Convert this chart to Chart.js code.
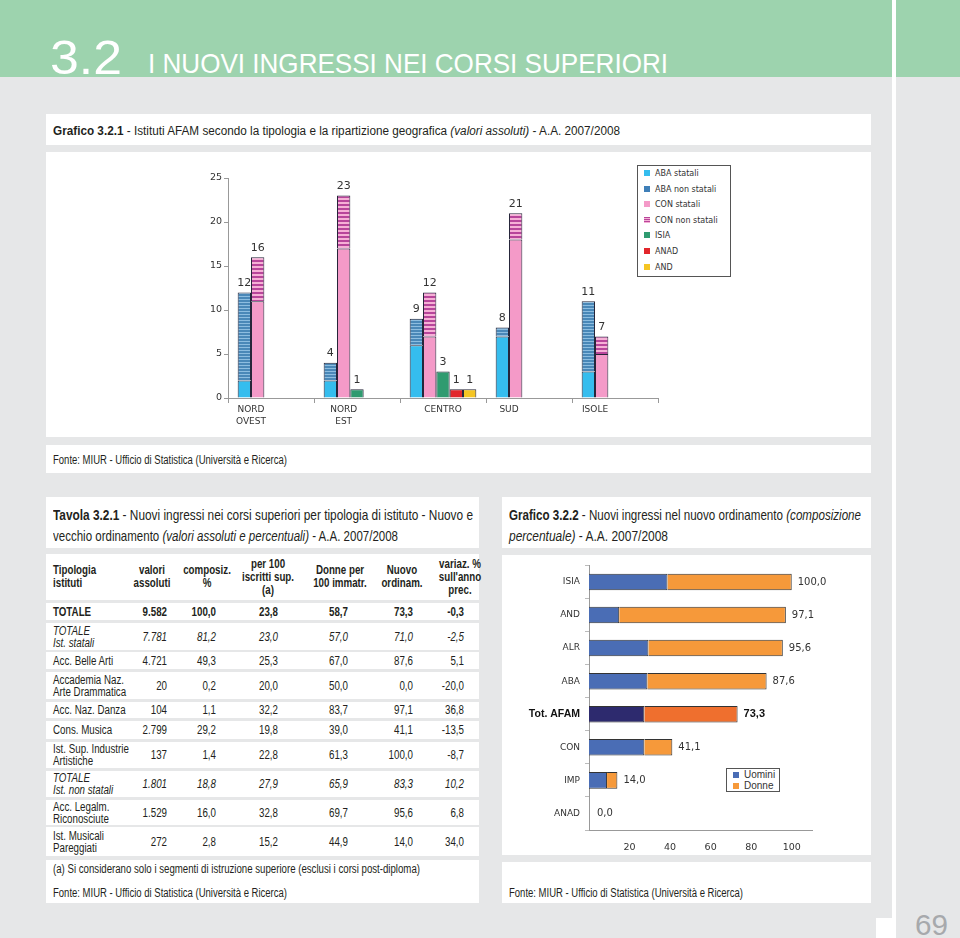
<!DOCTYPE html>
<html>
<head>
<meta charset="utf-8">
<script src="https://cdn.jsdelivr.net/npm/chart.js@4.4.1/dist/chart.umd.min.js"></script>
<style>
  body { margin: 0; background: #e6e7e8; overflow: hidden; }
  #page { position: relative; width: 960px; height: 938px; background: #e6e7e8; color: #231f20; font-family: "Liberation Sans", Arial, sans-serif; }
  .abs { position: absolute; white-space: nowrap; }
  .box { position: absolute; background: #fff; }
  .fit { transform-origin: left center; }
  .row { position: absolute; left: 46px; width: 433px; background: #fff; font-size: 12.5px; }
  .row .lab { position: absolute; left: 7px; top: 50%; transform: translateY(-50%) scaleX(0.78); transform-origin: left center; line-height: 12px; white-space: nowrap; }
  .row .val { position: absolute; top: 50%; transform: translateY(-50%) scaleX(0.78); transform-origin: right center; text-align: right; width: 60px; }
  .hdr { position: absolute; top: 50%; transform: translateY(-50%) scaleX(0.78); text-align: center; width: 90px; line-height: 13px; font-weight: bold; font-size: 12.5px; white-space: nowrap; }
  .leg { position: absolute; border: 1px solid #555; background: #fff; font-family: "DejaVu Sans", sans-serif; font-size: 8px; color: #333; }
  .leg div { position: absolute; left: 6px; white-space: nowrap; }
  .leg span { display: inline-block; width: 6px; height: 6px; margin-right: 5px; vertical-align: 0px; }
</style>
</head>
<body>
<div id="page">
  <div class="abs" style="left:0;top:0;width:960px;height:77px;background:#9dd3ae"></div>
  <div class="abs" style="left:892px;top:0;width:4px;height:920px;background:#fff"></div>
  <div class="abs" style="left:876px;top:918px;width:20px;height:20px;background:#fff"></div>
  <div class="abs fit" data-w="72" style="left:50px;top:33px;font-size:49px;line-height:49px;color:#fff">3.2</div>
  <div class="abs fit" data-w="520" style="left:148px;top:50px;font-size:28px;line-height:28px;color:#fff">I NUOVI INGRESSI NEI CORSI SUPERIORI</div>
  <div class="abs fit" data-w="33" style="left:915px;top:910px;font-size:30px;line-height:30px;color:#a7a9ac">69</div>

  <div class="box" style="left:46px;top:114px;width:825px;height:31px;">
    <div class="abs fit" data-w="567" style="left:7px;top:10px;font-size:12px;line-height:14px"><b>Grafico 3.2.1</b> - Istituti AFAM secondo la tipologia e la ripartizione geografica <i>(valori assoluti)</i> - A.A. 2007/2008</div>
  </div>
  <div class="box" style="left:46px;top:152px;width:825px;height:285px;">
    <canvas id="geo" width="825" height="285"></canvas>
  </div>
  <div id="geoLegend" class="leg" style="left:637px;top:165px;width:92px;height:110px;"></div>
  <div class="box" style="left:46px;top:445px;width:825px;height:28px;">
    <div class="abs fit" data-w="234" style="left:7px;top:8px;font-size:12px;line-height:14px">Fonte: MIUR - Ufficio di Statistica (Università e Ricerca)</div>
  </div>

  <div class="box" style="left:46px;top:497px;width:433px;height:51px;">
    <div class="abs fit" data-w="420" style="left:7px;top:7px;font-size:15px;line-height:21px"><b>Tavola 3.2.1</b> - Nuovi ingressi nei corsi superiori per tipologia di istituto - Nuovo e</div>
    <div class="abs fit" data-w="345" style="left:7px;top:28px;font-size:15px;line-height:21px">vecchio ordinamento <i>(valori assoluti e percentuali)</i> - A.A. 2007/2008</div>
  </div>
  <div id="tbl"></div>
  <div class="box" style="left:46px;top:860px;width:433px;height:43px;">
    <div class="abs fit" data-w="367" style="left:7px;top:2px;font-size:12px;line-height:14px">(a) Si considerano solo i segmenti di istruzione superiore (esclusi i corsi post-diploma)</div>
    <div class="abs fit" data-w="234" style="left:7px;top:26px;font-size:12px;line-height:14px">Fonte: MIUR - Ufficio di Statistica (Università e Ricerca)</div>
  </div>

  <div class="box" style="left:502px;top:497px;width:369px;height:51px;">
    <div class="abs fit" data-w="352" style="left:7px;top:7px;font-size:15px;line-height:21px"><b>Grafico 3.2.2</b> - Nuovi ingressi nel nuovo ordinamento <i>(composizione</i></div>
    <div class="abs fit" data-w="159" style="left:7px;top:28px;font-size:15px;line-height:21px"><i>percentuale)</i> - A.A. 2007/2008</div>
  </div>
  <div class="box" style="left:502px;top:555px;width:369px;height:300px;">
    <canvas id="ord" width="368" height="300"></canvas>
  </div>
  <div class="leg" style="left:726px;top:768px;width:52px;height:22px;font-family:'Liberation Sans',Arial,sans-serif;font-size:10px;">
    <div style="top:0px;left:6px"><span style="background:#4a6db5"></span>Uomini</div>
    <div style="top:11px;left:6px"><span style="background:#f6993a"></span>Donne</div>
  </div>
  <div class="box" style="left:502px;top:862px;width:369px;height:41px;">
    <div class="abs fit" data-w="234" style="left:7px;top:24px;font-size:12px;line-height:14px">Fonte: MIUR - Ufficio di Statistica (Università e Ricerca)</div>
  </div>
</div>

<script>
// Grafico 3.2.1 - istituti per ripartizione
const regioni = [['NORD', 'OVEST'], ['NORD', 'EST'], 'CENTRO', 'SUD', 'ISOLE'];
const abaStatali = [2, 2, 6, 7, 3];
const abaNonStatali = [10, 2, 3, 1, 8];
const conStatali = [11, 17, 7, 18, 5];
const conNonStatali = [5, 6, 5, 3, 2];
const isia = [null, 1, 3, null, null];
const anad = [null, null, 1, null, null];
const and = [null, null, 1, null, null];

// Grafico 3.2.2 - nuovo ordinamento
const tipologie = ['ISIA', 'AND', 'ALR', 'ABA', 'Tot. AFAM', 'CON', 'IMP', 'ANAD'];
const uomini = [38.7, 14.9, 29.3, 28.8, 27.3, 27.3, 8.9, 0];
const donne = [61.3, 82.2, 66.3, 58.8, 46.0, 13.8, 5.1, 0];
const totaliOrd = ['100,0', '97,1', '95,6', '87,6', '73,3', '41,1', '14,0', '0,0'];
const ticksOrd = [20, 40, 60, 80, 100];

// Tavola 3.2.1
const istituti = ['TOTALE', 'TOTALE<br>Ist. statali', 'Acc. Belle Arti', 'Accademia Naz.<br>Arte Drammatica',
    'Acc. Naz. Danza', 'Cons. Musica', 'Ist. Sup. Industrie<br>Artistiche', 'TOTALE<br>Ist. non statali',
    'Acc. Legalm.<br>Riconosciute', 'Ist. Musicali<br>Pareggiati'];
const valoriAssoluti = ['9.582', '7.781', '4.721', '20', '104', '2.799', '137', '1.801', '1.529', '272'];
const composizione = ['100,0', '81,2', '49,3', '0,2', '1,1', '29,2', '1,4', '18,8', '16,0', '2,8'];
const per100Iscritti = ['23,8', '23,0', '25,3', '20,0', '32,2', '19,8', '22,8', '27,9', '32,8', '15,2'];
const donnePer100 = ['58,7', '57,0', '67,0', '50,0', '83,7', '39,0', '61,3', '65,9', '69,7', '44,9'];
const nuovoOrdinam = ['73,3', '71,0', '87,6', '0,0', '97,1', '41,1', '100,0', '83,3', '95,6', '14,0'];
const variazione = ['-0,3', '-2,5', '5,1', '-20,0', '36,8', '-13,5', '-8,7', '10,2', '6,8', '34,0'];
const intestazioni = ['valori<br>assoluti', 'composiz.<br>%', 'per 100<br>iscritti sup.<br>(a)', 'Donne per<br>100 immatr.', 'Nuovo<br>ordinam.', 'variaz. %<br>sull\'anno<br>prec.'];

// ---- table layout
const rowTops = [603, 623, 652, 672, 702, 721, 742, 771, 800, 827];
const rowBottoms = [620, 650, 669, 699, 718, 739, 768, 797, 825, 856];
const rowStyle = ['bold', 'italic', '', '', '', '', '', 'italic', '', ''];
const colRight = [167, 216, 278, 348, 413, 464];
const colHead = [152, 207, 268, 340, 402, 460];

const tbl = document.getElementById('tbl');
let html = '<div class="row" style="top:554px;height:46px">' +
    '<div class="hdr" style="left:7px;text-align:left;transform-origin:left center">Tipologia<br>istituti</div>';
intestazioni.forEach((h, i) => {
    html += `<div class="hdr" style="left:${colHead[i] - 46 - 45}px">${h}</div>`;
});
html += '</div>';
const cols = [valoriAssoluti, composizione, per100Iscritti, donnePer100, nuovoOrdinam, variazione];
istituti.forEach((name, r) => {
    let st = '';
    if (rowStyle[r] === 'bold') st = 'font-weight:bold;';
    if (rowStyle[r] === 'italic') st = 'font-style:italic;';
    html += `<div class="row" style="top:${rowTops[r]}px;height:${rowBottoms[r] - rowTops[r]}px;${st}">`;
    html += `<div class="lab">${name}</div>`;
    cols.forEach((c, i) => {
        html += `<div class="val" style="left:${colRight[i] - 46 - 60}px">${c[r]}</div>`;
    });
    html += '</div>';
});
tbl.innerHTML = html;

// squeeze the captions to the condensed width of the original
document.querySelectorAll('.fit').forEach(el => {
    const w = el.getBoundingClientRect().width;
    el.style.transform = `scaleX(${el.dataset.w / w})`;
});

// ---- striped fills
function stripes(base, line, period, lineH) {
    const c = document.createElement('canvas');
    c.width = 4; c.height = period;
    const x = c.getContext('2d');
    x.fillStyle = base; x.fillRect(0, 0, 4, period);
    x.fillStyle = line; x.fillRect(0, 0, 4, lineH);
    return x.createPattern(c, 'repeat');
}

const geoSeries = [
    { label: 'ABA statali', data: abaStatali, stack: 'ABA', color: '#35bdee', css: '#35bdee' },
    { label: 'ABA non statali', data: abaNonStatali, stack: 'ABA', color: stripes('#4a88b8', '#8dbde0', 3, 1), css: '#3f7fb8' },
    { label: 'CON statali', data: conStatali, stack: 'CON', color: '#f49ac8', css: '#f49ac8' },
    { label: 'CON non statali', data: conNonStatali, stack: 'CON', color: stripes('#f6b0d6', '#b8459b', 4, 2), css: 'repeating-linear-gradient(#b8459b 0 1px,#f6b0d6 1px 2px)' },
    { label: 'ISIA', data: isia, stack: 'ISIA', color: '#2f9b70', css: '#2f9b70' },
    { label: 'ANAD', data: anad, stack: 'ANAD', color: '#e2262b', css: '#e2262b' },
    { label: 'AND', data: and, stack: 'AND', color: '#f5c523', css: '#f5c523' }
];

// legend of the first chart
const geoLegend = document.getElementById('geoLegend');
geoSeries.forEach((s, i) => {
    const d = document.createElement('div');
    d.style.top = (3 + i * 15.6) + 'px';
    d.innerHTML = `<span style="background:${s.css}"></span>${s.label}`;
    geoLegend.appendChild(d);
});

const stackTotals = {
    id: 'stackTotals',
    afterDatasetsDraw(chart) {
        const ctx = chart.ctx;
        const tops = {};
        const spans = {};
        chart.data.datasets.forEach((ds, di) => {
            const meta = chart.getDatasetMeta(di);
            meta.data.forEach((bar, i) => {
                const v = ds.data[i];
                if (v === null || v === undefined) return;
                const key = i + '-' + ds.stack;
                if (!tops[key]) tops[key] = { sum: 0, x: bar.x, y: bar.y };
                tops[key].sum += v;
                tops[key].y = Math.min(tops[key].y, bar.y);
                const s = spans[i] || (spans[i] = { l: Infinity, r: -Infinity });
                s.l = Math.min(s.l, bar.x - bar.width / 2);
                s.r = Math.max(s.r, bar.x + bar.width / 2);
            });
        });
        ctx.save();
        ctx.font = '11px "DejaVu Sans", sans-serif';
        ctx.fillStyle = '#333';
        ctx.textAlign = 'center';
        ctx.textBaseline = 'bottom';
        Object.values(tops).forEach(t => ctx.fillText(String(t.sum), t.x, t.y - 4));

        // category names, centred under the bars that are present
        const bottom = chart.chartArea.bottom;
        ctx.font = '9px "DejaVu Sans", sans-serif';
        ctx.textBaseline = 'top';
        regioni.forEach((name, i) => {
            const cx = (spans[i].l + spans[i].r) / 2;
            const lines = Array.isArray(name) ? name : [name];
            lines.forEach((ln, k) => ctx.fillText(ln, cx, bottom + 7 + k * 12));
        });
        ctx.restore();
    }
};

new Chart(document.getElementById('geo'), {
    type: 'bar',
    data: {
        labels: regioni,
        datasets: geoSeries.map(s => ({
            label: s.label,
            data: s.data,
            stack: s.stack,
            backgroundColor: s.color,
            borderColor: '#26263a',
            borderWidth: 1,
            categoryPercentage: 0.775,
            barPercentage: 1.0
        }))
    },
    options: {
        responsive: false,
        animation: false,
        layout: { padding: { left: 142, right: 213, top: 26, bottom: 0 } },
        plugins: { legend: { display: false }, tooltip: { enabled: false } },
        scales: {
            x: {
                stacked: true,
                grid: { drawOnChartArea: false, tickLength: 5, color: '#999' },
                border: { color: '#999' },
                ticks: { display: false },
                afterFit: s => { s.height = 39; }
            },
            y: {
                stacked: true,
                min: 0,
                max: 25,
                grid: { drawOnChartArea: false, tickLength: 4, color: '#999' },
                border: { color: '#999' },
                ticks: { stepSize: 5, color: '#333', font: { family: 'DejaVu Sans', size: 9.5 }, padding: 2 },
                afterFit: s => { s.width = 40; }
            }
        }
    },
    plugins: [stackTotals]
});

// ---- second chart
const isTot = i => tipologie[i] === 'Tot. AFAM';

const endLabels = {
    id: 'endLabels',
    afterDatasetsDraw(chart) {
        const ctx = chart.ctx;
        const xs = chart.scales.x;
        const last = chart.getDatasetMeta(1);
        ctx.save();
        ctx.textBaseline = 'middle';
        ctx.textAlign = 'left';
        last.data.forEach((bar, i) => {
            const end = xs.getPixelForValue(uomini[i] + donne[i]);
            if (isTot(i)) {
                ctx.font = 'bold 11px "Liberation Sans", Arial, sans-serif';
                ctx.fillStyle = '#111';
            } else {
                ctx.font = '10px "DejaVu Sans", sans-serif';
                ctx.fillStyle = '#333';
            }
            ctx.fillText(totaliOrd[i], end + (uomini[i] + donne[i] > 0 ? 6 : 8), bar.y);
        });
        ctx.restore();
    }
};

new Chart(document.getElementById('ord'), {
    type: 'bar',
    data: {
        labels: tipologie,
        datasets: [
            {
                label: 'Uomini',
                data: uomini,
                backgroundColor: tipologie.map((t, i) => isTot(i) ? '#2d2a6e' : '#4a6db5'),
                borderColor: '#333',
                borderWidth: 1,
                barPercentage: 0.5,
                categoryPercentage: 1
            },
            {
                label: 'Donne',
                data: donne,
                backgroundColor: tipologie.map((t, i) => isTot(i) ? '#ef6f2e' : '#f6993a'),
                borderColor: '#333',
                borderWidth: 1,
                barPercentage: 0.5,
                categoryPercentage: 1
            }
        ]
    },
    options: {
        indexAxis: 'y',
        responsive: false,
        animation: false,
        layout: { padding: { left: 0, right: 58, top: 7, bottom: 0 } },
        plugins: { legend: { display: false }, tooltip: { enabled: false } },
        scales: {
            x: {
                stacked: true,
                min: 0,
                max: 110,
                grid: { display: false },
                border: { color: '#999' },
                afterBuildTicks: s => { s.ticks = ticksOrd.map(v => ({ value: v })); },
                ticks: { color: '#333', font: { family: 'DejaVu Sans', size: 9.5 }, padding: 4 },
                afterFit: s => { s.height = 25; }
            },
            y: {
                stacked: true,
                grid: { drawOnChartArea: false, tickLength: 4, color: '#bbb' },
                border: { color: '#999' },
                ticks: {
                    padding: 5,
                    color: c => isTot(c.index) ? '#111' : '#333',
                    font: c => isTot(c.index)
                        ? { family: 'Liberation Sans', size: 10.5, weight: 'bold' }
                        : { family: 'DejaVu Sans', size: 9 }
                },
                afterFit: s => { s.width = 87; }
            }
        }
    },
    plugins: [endLabels]
});
</script>
</body>
</html>
